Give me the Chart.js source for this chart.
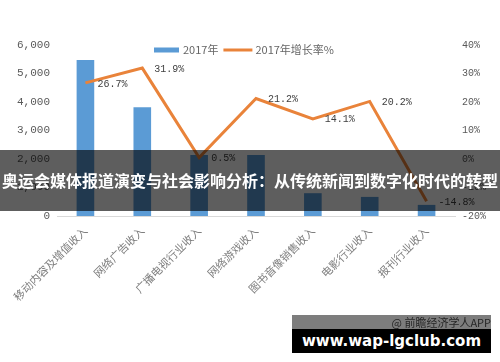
<!DOCTYPE html>
<html>
<head>
<meta charset="utf-8">
<script src="https://cdn.jsdelivr.net/npm/chart.js@4.4.0/dist/chart.umd.min.js"></script>
<style>
  html, body { margin: 0; padding: 0; background: #ffffff; }
  #wrap { position: relative; width: 500px; height: 362px; overflow: hidden; background: #fff; }
  #c { position: absolute; left: 0; top: 0; }
  #banner {
    position: absolute; left: 0; top: 150px; width: 500px; height: 61px;
    background: rgba(0,0,0,0.63); color: #fff;
    font: bold 16px "Noto Sans CJK SC", sans-serif; line-height: 61px;
    text-align: center; white-space: nowrap; letter-spacing: 0px;
  }
  #src {
    position: absolute; left: 292px; top: 315px; width: 199px; height: 14px;
    background: #7d7d7d; color: #262626; font: 11px "Noto Sans CJK SC", sans-serif;
    line-height: 14px; text-align: right; white-space: nowrap;
  }
  #site {
    position: absolute; left: 292px; top: 329px; width: 199px; height: 24px;
    background: #000; color: #fff; font: bold 15px "DejaVu Sans", sans-serif;
    line-height: 24px; text-align: center; white-space: nowrap;
  }
</style>
</head>
<body>
<div id="wrap">
  <canvas id="c" width="500" height="362"></canvas>
  <div id="banner">奥运会媒体报道演变与社会影响分析：从传统新闻到数字化时代的转型</div>
  <div id="src">@ 前瞻经济学人APP</div>
  <div id="site">www.wap-lgclub.com</div>
</div>
<script>
const categories = ['移动内容及增值收入', '网络广告收入', '广播电视行业收入', '网络游戏收入', '图书音像销售收入', '电影行业收入', '报刊行业收入'];
const revenue2017 = [5470, 3820, 2140, 2140, 800, 670, 390];
const growth2017 = [26.7, 31.9, 0.5, 21.2, 14.1, 20.2, -14.8];
const growthLabels = ['26.7%', '31.9%', '0.5%', '21.2%', '14.1%', '20.2%', '-14.8%'];
const leftTickLabels = ['0', '1,000', '2,000', '3,000', '4,000', '5,000', '6,000'];
const rightTickLabels = ['-20%', '-10%', '0%', '10%', '20%', '30%', '40%'];
const seriesNames = ['2017年', '2017年增长率%'];

const BLUE = '#5b9bd5';
const ORANGE = '#e9833a';

const pointLabelPlugin = {
  id: 'pointLabels',
  afterDatasetsDraw(chart) {
    const meta = chart.getDatasetMeta(1);
    const ctx = chart.ctx;
    ctx.save();
    ctx.font = '10px "Liberation Mono", monospace';
    ctx.fillStyle = '#404040';
    ctx.textBaseline = 'middle';
    ctx.textAlign = 'left';
    meta.data.forEach((pt, i) => {
      ctx.fillText(growthLabels[i], pt.x + 12, pt.y + 1);
    });
    ctx.restore();
  }
};

const legendPlugin = {
  id: 'customLegend',
  afterDraw(chart) {
    const ctx = chart.ctx;
    const ds = chart.data.datasets;
    ctx.save();
    ctx.font = '11px "Noto Sans CJK SC", sans-serif';
    ctx.textBaseline = 'middle';
    let x = 154;
    const y = 50;
    ctx.fillStyle = ds[0].backgroundColor;
    ctx.fillRect(x, y - 2.5, 25, 5);
    x += 29;
    ctx.fillStyle = '#666666';
    ctx.fillText(ds[0].label, x, y);
    x += ctx.measureText(ds[0].label).width + 5;
    ctx.strokeStyle = ds[1].borderColor;
    ctx.lineWidth = 3;
    ctx.beginPath();
    ctx.moveTo(x, y);
    ctx.lineTo(x + 29, y);
    ctx.stroke();
    x += 32;
    ctx.fillStyle = '#666666';
    ctx.fillText(ds[1].label, x, y);
    ctx.restore();
  }
};

new Chart(document.getElementById('c'), {
  type: 'bar',
  data: {
    labels: categories,
    datasets: [
      {
        type: 'bar',
        label: seriesNames[0],
        data: revenue2017,
        backgroundColor: BLUE,
        borderWidth: 0,
        yAxisID: 'y',
        categoryPercentage: 1,
        barPercentage: 0.31,
        order: 2
      },
      {
        type: 'line',
        label: seriesNames[1],
        data: growth2017,
        borderColor: ORANGE,
        backgroundColor: ORANGE,
        borderWidth: 3,
        pointRadius: 0,
        tension: 0,
        yAxisID: 'y1',
        order: 1
      }
    ]
  },
  options: {
    responsive: false,
    animation: false,
    devicePixelRatio: 1,
    layout: { padding: { top: 45, left: 0, right: 0, bottom: 0 } },
    plugins: {
      legend: { display: false },
      tooltip: { enabled: false },
      title: { display: false }
    },
    scales: {
      x: {
        grid: { display: false, drawTicks: false },
        border: { display: true, color: '#d9d9d9', width: 1 },
        ticks: {
          minRotation: 45, maxRotation: 45, autoSkip: false, padding: 8,
          color: '#7f7f7f',
          font: { family: '"Noto Sans CJK SC", sans-serif', size: 11 }
        },
        afterFit(s) { s.height = 146; }
      },
      y: {
        position: 'left',
        min: 0, max: 6000,
        grid: { display: false, drawTicks: false },
        border: { display: false },
        ticks: {
          stepSize: 1000, padding: 7, color: '#595959',
          font: { family: '"Liberation Mono", monospace', size: 11 },
          callback: (v, i) => leftTickLabels[i]
        },
        afterFit(s) { s.width = 57; }
      },
      y1: {
        position: 'right',
        min: -20, max: 40,
        grid: { display: false, drawTicks: false },
        border: { display: false },
        ticks: {
          stepSize: 10, padding: 7, color: '#595959',
          font: { family: '"Liberation Mono", monospace', size: 10 },
          callback: (v, i) => rightTickLabels[i]
        },
        afterFit(s) { s.width = 45; }
      }
    }
  },
  plugins: [pointLabelPlugin, legendPlugin]
});
</script>
</body>
</html>
